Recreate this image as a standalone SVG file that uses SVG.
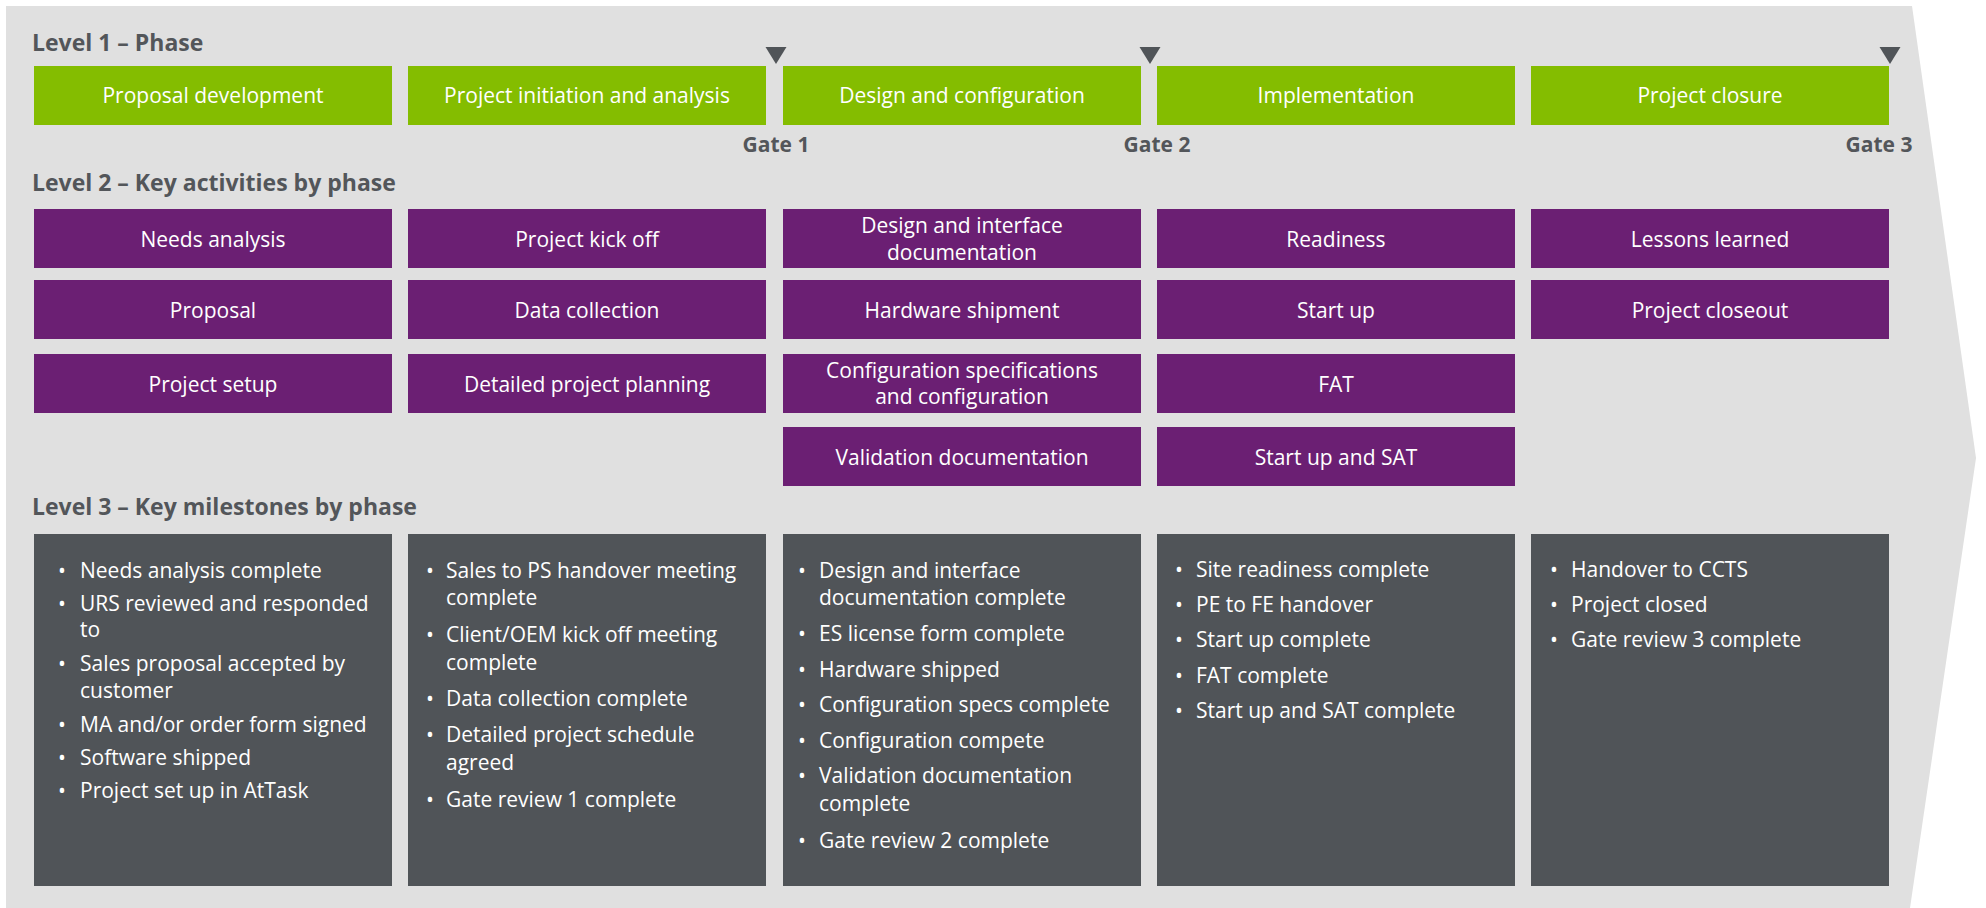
<svg xmlns="http://www.w3.org/2000/svg" width="1986" height="908" viewBox="0 0 1986 908">
<style>
text{font-family:"Open Sans","Noto Sans","DejaVu Sans",sans-serif}
.h{font-size:23px;font-weight:700;fill:#53565a}
.gate{font-size:21px;font-weight:700;fill:#53565a;text-anchor:middle}
.ph{fill:#84bd00}
.ac{fill:#6b1f73}
.ms{fill:#505458}
.bt{font-size:21px;fill:#ffffff;text-anchor:middle}
.mt{font-size:21px;fill:#ffffff}
.tri{fill:#505458}
</style>
<polygon id="background" points="6,6 1912,6 1976,458 1910,908 6,908" fill="#e0e0e0"/>
<g id="headings">
<text class="h" x="32" y="51">Level 1 – Phase</text>
<text class="h" x="32" y="191">Level 2 – Key activities by phase</text>
<text class="h" x="32" y="515">Level 3 – Key milestones by phase</text>
</g>
<g id="phases">
<g id="phase1"><rect class="ph" x="34" y="66" width="358" height="59"/><text class="bt" x="213" y="103">Proposal development</text></g>
<g id="phase2"><rect class="ph" x="408" y="66" width="358" height="59"/><text class="bt" x="587" y="103">Project initiation and analysis</text></g>
<g id="phase3"><rect class="ph" x="783" y="66" width="358" height="59"/><text class="bt" x="962" y="103">Design and configuration</text></g>
<g id="phase4"><rect class="ph" x="1157" y="66" width="358" height="59"/><text class="bt" x="1336" y="103">Implementation</text></g>
<g id="phase5"><rect class="ph" x="1531" y="66" width="358" height="59"/><text class="bt" x="1710" y="103">Project closure</text></g>
</g>
<g id="gates">
<g id="gate1"><polygon class="tri" points="765.5,47 786.5,47 776,64"/><text class="gate" x="776" y="152">Gate 1</text></g>
<g id="gate2"><polygon class="tri" points="1139.5,47 1160.5,47 1150,64"/><text class="gate" x="1157" y="152">Gate 2</text></g>
<g id="gate3"><polygon class="tri" points="1879.5,47 1900.5,47 1890,64"/><text class="gate" x="1879" y="152">Gate 3</text></g>
</g>
<g id="activities">
<g id="a1-1"><rect class="ac" x="34" y="209" width="358" height="59"/><text class="bt" x="213" y="247">Needs analysis</text></g>
<g id="a1-2"><rect class="ac" x="34" y="280" width="358" height="59"/><text class="bt" x="213" y="318">Proposal</text></g>
<g id="a1-3"><rect class="ac" x="34" y="354" width="358" height="59"/><text class="bt" x="213" y="392">Project setup</text></g>
<g id="a2-1"><rect class="ac" x="408" y="209" width="358" height="59"/><text class="bt" x="587" y="247">Project kick off</text></g>
<g id="a2-2"><rect class="ac" x="408" y="280" width="358" height="59"/><text class="bt" x="587" y="318">Data collection</text></g>
<g id="a2-3"><rect class="ac" x="408" y="354" width="358" height="59"/><text class="bt" x="587" y="392">Detailed project planning</text></g>
<g id="a3-1"><rect class="ac" x="783" y="209" width="358" height="59"/><text class="bt" x="962" y="233">Design and interface</text><text class="bt" x="962" y="260">documentation</text></g>
<g id="a3-2"><rect class="ac" x="783" y="280" width="358" height="59"/><text class="bt" x="962" y="318">Hardware shipment</text></g>
<g id="a3-3"><rect class="ac" x="783" y="354" width="358" height="59"/><text class="bt" x="962" y="378">Configuration specifications</text><text class="bt" x="962" y="404">and configuration</text></g>
<g id="a3-4"><rect class="ac" x="783" y="427" width="358" height="59"/><text class="bt" x="962" y="465">Validation documentation</text></g>
<g id="a4-1"><rect class="ac" x="1157" y="209" width="358" height="59"/><text class="bt" x="1336" y="247">Readiness</text></g>
<g id="a4-2"><rect class="ac" x="1157" y="280" width="358" height="59"/><text class="bt" x="1336" y="318">Start up</text></g>
<g id="a4-3"><rect class="ac" x="1157" y="354" width="358" height="59"/><text class="bt" x="1336" y="392">FAT</text></g>
<g id="a4-4"><rect class="ac" x="1157" y="427" width="358" height="59"/><text class="bt" x="1336" y="465">Start up and SAT</text></g>
<g id="a5-1"><rect class="ac" x="1531" y="209" width="358" height="59"/><text class="bt" x="1710" y="247">Lessons learned</text></g>
<g id="a5-2"><rect class="ac" x="1531" y="280" width="358" height="59"/><text class="bt" x="1710" y="318">Project closeout</text></g>
</g>
<g id="milestones">
<g id="m1"><rect class="ms" x="34" y="534" width="358" height="352"/>
<text class="mt" x="80" y="578">Needs analysis complete</text>
<text class="mt" x="80" y="611">URS reviewed and responded</text>
<text class="mt" x="80" y="637">to</text>
<text class="mt" x="80" y="671">Sales proposal accepted by</text>
<text class="mt" x="80" y="698">customer</text>
<text class="mt" x="80" y="732">MA and/or order form signed</text>
<text class="mt" x="80" y="765">Software shipped</text>
<text class="mt" x="80" y="798">Project set up in AtTask</text>
<text class="bt" x="62" y="578">•</text><text class="bt" x="62" y="611">•</text><text class="bt" x="62" y="671">•</text><text class="bt" x="62" y="732">•</text><text class="bt" x="62" y="765">•</text><text class="bt" x="62" y="798">•</text>
</g>
<g id="m2"><rect class="ms" x="408" y="534" width="358" height="352"/>
<text class="mt" x="446" y="578">Sales to PS handover meeting</text>
<text class="mt" x="446" y="605">complete</text>
<text class="mt" x="446" y="642">Client/OEM kick off meeting</text>
<text class="mt" x="446" y="670">complete</text>
<text class="mt" x="446" y="706">Data collection complete</text>
<text class="mt" x="446" y="742">Detailed project schedule</text>
<text class="mt" x="446" y="770">agreed</text>
<text class="mt" x="446" y="807">Gate review 1 complete</text>
<text class="bt" x="430" y="578">•</text><text class="bt" x="430" y="642">•</text><text class="bt" x="430" y="706">•</text><text class="bt" x="430" y="742">•</text><text class="bt" x="430" y="807">•</text>
</g>
<g id="m3"><rect class="ms" x="783" y="534" width="358" height="352"/>
<text class="mt" x="819" y="578">Design and interface</text>
<text class="mt" x="819" y="605">documentation complete</text>
<text class="mt" x="819" y="641">ES license form complete</text>
<text class="mt" x="819" y="677">Hardware shipped</text>
<text class="mt" x="819" y="712">Configuration specs complete</text>
<text class="mt" x="819" y="748">Configuration compete</text>
<text class="mt" x="819" y="783">Validation documentation</text>
<text class="mt" x="819" y="811">complete</text>
<text class="mt" x="819" y="848">Gate review 2 complete</text>
<text class="bt" x="802" y="578">•</text><text class="bt" x="802" y="641">•</text><text class="bt" x="802" y="677">•</text><text class="bt" x="802" y="712">•</text><text class="bt" x="802" y="748">•</text><text class="bt" x="802" y="783">•</text><text class="bt" x="802" y="848">•</text>
</g>
<g id="m4"><rect class="ms" x="1157" y="534" width="358" height="352"/>
<text class="mt" x="1196" y="577">Site readiness complete</text>
<text class="mt" x="1196" y="612">PE to FE handover</text>
<text class="mt" x="1196" y="647">Start up complete</text>
<text class="mt" x="1196" y="683">FAT complete</text>
<text class="mt" x="1196" y="718">Start up and SAT complete</text>
<text class="bt" x="1179" y="577">•</text><text class="bt" x="1179" y="612">•</text><text class="bt" x="1179" y="647">•</text><text class="bt" x="1179" y="683">•</text><text class="bt" x="1179" y="718">•</text>
</g>
<g id="m5"><rect class="ms" x="1531" y="534" width="358" height="352"/>
<text class="mt" x="1571" y="577">Handover to CCTS</text>
<text class="mt" x="1571" y="612">Project closed</text>
<text class="mt" x="1571" y="647">Gate review 3 complete</text>
<text class="bt" x="1554" y="577">•</text><text class="bt" x="1554" y="612">•</text><text class="bt" x="1554" y="647">•</text>
</g>
</g>
<g id="connectors"></g>
</svg>
